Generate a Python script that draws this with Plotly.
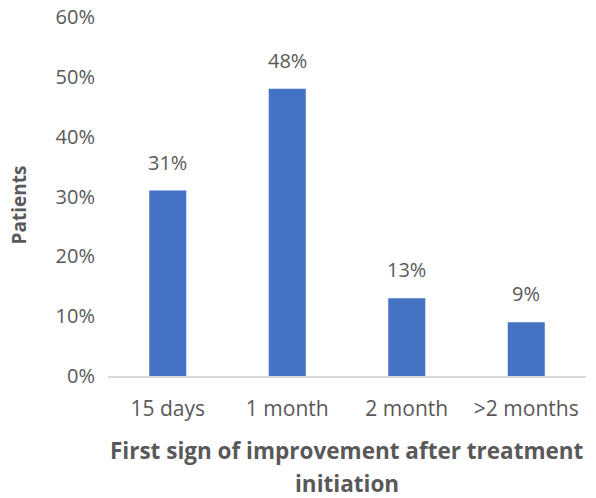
import plotly.graph_objects as go

categories = ["15 days", "1 month", "2 month", ">2 months"]
values = [0.31, 0.48, 0.13, 0.09]
labels = ["31%", "48%", "13%", "9%"]
y_ticks = [0, 0.1, 0.2, 0.3, 0.4, 0.5, 0.6]
y_tick_text = ["0%", "10%", "20%", "30%", "40%", "50%", "60%"]
x_title_lines = ["First sign of improvement after treatment", "initiation"]
y_title = "Patients"

font_family = "Open Sans, Noto Sans, sans-serif"
gray = "#595959"

fig = go.Figure(go.Bar(
    x=categories, y=values,
    marker=dict(color="#4472C4", line=dict(width=0)),
    width=0.31, hoverinfo="x+y",
))

for c, v, t in zip(categories, values, labels):
    fig.add_annotation(x=c, y=v, text=t, showarrow=False, yanchor="bottom",
                       yshift=13, font=dict(size=20, color=gray, family=font_family))

for i, line in enumerate(x_title_lines):
    fig.add_annotation(x=0.5, y=0, xref="paper", yref="paper", text=f"<b>{line}</b>",
                       showarrow=False, yanchor="middle", yshift=-74 - 33 * i,
                       font=dict(size=22.5, color=gray, family=font_family))

fig.add_annotation(x=0, y=0.5, xref="paper", yref="paper", text=f"<b>{y_title}</b>",
                   textangle=-90, showarrow=False, xanchor="center", yanchor="middle",
                   xshift=-90, yshift=-9,
                   font=dict(size=19, color=gray, family=font_family))

fig.update_layout(
    width=596, height=498,
    margin=dict(l=108, r=10, t=17, b=122, autoexpand=False),
    plot_bgcolor="white", paper_bgcolor="white",
    showlegend=False,
    font=dict(family=font_family, color=gray, size=20),
    xaxis=dict(
        showgrid=False, showline=True, linecolor="#D9D9D9", linewidth=1.5,
        ticks="", tickfont=dict(size=21, color=gray), automargin=False,
        ticklabelstandoff=13,
    ),
    yaxis=dict(
        range=[0, 0.6], tickvals=y_ticks, ticktext=y_tick_text,
        showgrid=False, zeroline=False, showline=False, ticks="",
        tickfont=dict(size=20, color=gray), ticklabelstandoff=12, automargin=False,
        ticklabeloverflow="allow",
    ),
)

fig.write_html("out.html", config={"displayModeBar": False},
               post_script="document.body.style.margin='0';")
